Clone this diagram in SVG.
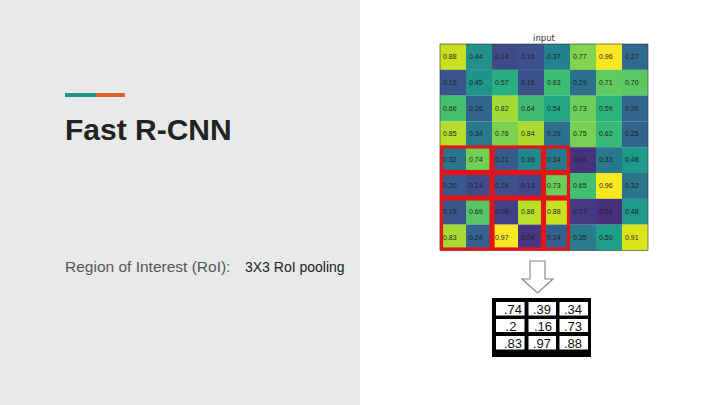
<svg xmlns="http://www.w3.org/2000/svg" width="720" height="405" viewBox="0 0 720 405">
<style>
.c{stroke:none}
.v{font-family:"Liberation Sans","DejaVu Sans",sans-serif;font-size:7px;fill:#1e1e1e}
.roi{fill:none;stroke:#e0161b;stroke-width:3.2}
.o{font-family:"Liberation Sans","DejaVu Sans",sans-serif;font-size:13px;fill:#111;text-anchor:middle}
</style>
<rect x="0" y="0" width="720" height="405" fill="#ffffff"/>
<rect x="0" y="0" width="360" height="405" fill="#e8eaea"/>
<g id="accent">
<rect x="65" y="93" width="31" height="4" fill="#23968c"/>
<rect x="96" y="93" width="29" height="4" fill="#e0622a"/>
</g>
<g id="title"><text x="65" y="140" font-family="Liberation Sans, Arial, sans-serif" font-weight="bold" font-size="30" fill="#222">Fast R-CNN</text></g>
<g id="roi-label"><text x="65" y="272" font-family="Liberation Sans, Arial, sans-serif" font-size="15.5" fill="#555">Region of Interest (RoI):</text></g>
<g id="pool-label"><text x="245" y="272" font-family="Liberation Sans, Arial, sans-serif" font-size="14" fill="#222">3X3 RoI pooling</text></g>

<g id="input-grid">
<text x="544" y="41" text-anchor="middle" font-family="DejaVu Sans, sans-serif" font-size="8.5" fill="#333">input</text>
<!-- row 0 -->
<rect class="c" x="440" y="44" width="26" height="25.9" fill="#c8e020"/>
<rect class="c" x="466" y="44" width="26" height="25.9" fill="#21918c"/>
<rect class="c" x="492" y="44" width="26" height="25.9" fill="#3f4a89"/>
<rect class="c" x="518" y="44" width="26" height="25.9" fill="#3c508b"/>
<rect class="c" x="544" y="44" width="26" height="25.9" fill="#26818e"/>
<rect class="c" x="570" y="44" width="26" height="25.9" fill="#82d34d"/>
<rect class="c" x="596" y="44" width="26" height="25.9" fill="#f9e722"/>
<rect class="c" x="622" y="44" width="26" height="25.9" fill="#306a8e"/>
<!-- row 1 -->
<rect class="c" x="440" y="69.8" width="26" height="25.9" fill="#39568c"/>
<rect class="c" x="466" y="69.8" width="26" height="25.9" fill="#20948b"/>
<rect class="c" x="492" y="69.8" width="26" height="25.9" fill="#28ae80"/>
<rect class="c" x="518" y="69.8" width="26" height="25.9" fill="#3c508b"/>
<rect class="c" x="544" y="69.8" width="26" height="25.9" fill="#3dbc74"/>
<rect class="c" x="570" y="69.8" width="26" height="25.9" fill="#2d708e"/>
<rect class="c" x="596" y="69.8" width="26" height="25.9" fill="#60ca60"/>
<rect class="c" x="622" y="69.8" width="26" height="25.9" fill="#5cc863"/>
<!-- row 2 -->
<rect class="c" x="440" y="95.6" width="26" height="25.9" fill="#47c16e"/>
<rect class="c" x="466" y="95.6" width="26" height="25.9" fill="#31678e"/>
<rect class="c" x="492" y="95.6" width="26" height="25.9" fill="#a2da37"/>
<rect class="c" x="518" y="95.6" width="26" height="25.9" fill="#40bd72"/>
<rect class="c" x="544" y="95.6" width="26" height="25.9" fill="#22a785"/>
<rect class="c" x="570" y="95.6" width="26" height="25.9" fill="#6ccd5a"/>
<rect class="c" x="596" y="95.6" width="26" height="25.9" fill="#2db27d"/>
<rect class="c" x="622" y="95.6" width="26" height="25.9" fill="#31678e"/>
<!-- row 3 -->
<rect class="c" x="440" y="121.4" width="26" height="25.9" fill="#b5de2b"/>
<rect class="c" x="466" y="121.4" width="26" height="25.9" fill="#29798e"/>
<rect class="c" x="492" y="121.4" width="26" height="25.9" fill="#7bd250"/>
<rect class="c" x="518" y="121.4" width="26" height="25.9" fill="#addc30"/>
<rect class="c" x="544" y="121.4" width="26" height="25.9" fill="#2d708e"/>
<rect class="c" x="570" y="121.4" width="26" height="25.9" fill="#77d153"/>
<rect class="c" x="596" y="121.4" width="26" height="25.9" fill="#39b977"/>
<rect class="c" x="622" y="121.4" width="26" height="25.9" fill="#32648e"/>
<!-- row 4 -->
<rect class="c" x="440" y="147.2" width="26" height="25.9" fill="#2b758e"/>
<rect class="c" x="466" y="147.2" width="26" height="25.9" fill="#72cf56"/>
<rect class="c" x="492" y="147.2" width="26" height="25.9" fill="#375b8d"/>
<rect class="c" x="518" y="147.2" width="26" height="25.9" fill="#24868e"/>
<rect class="c" x="544" y="147.2" width="26" height="25.9" fill="#29798e"/>
<rect class="c" x="570" y="147.2" width="26" height="25.9" fill="#46337f"/>
<rect class="c" x="596" y="147.2" width="26" height="25.9" fill="#2a788e"/>
<rect class="c" x="622" y="147.2" width="26" height="25.9" fill="#1e9a8a"/>
<!-- row 5 -->
<rect class="c" x="440" y="173" width="26" height="25.9" fill="#38598c"/>
<rect class="c" x="466" y="173" width="26" height="25.9" fill="#3f4a89"/>
<rect class="c" x="492" y="173" width="26" height="25.9" fill="#3c508b"/>
<rect class="c" x="518" y="173" width="26" height="25.9" fill="#40478a"/>
<rect class="c" x="544" y="173" width="26" height="25.9" fill="#6ccd5a"/>
<rect class="c" x="570" y="173" width="26" height="25.9" fill="#44bf70"/>
<rect class="c" x="596" y="173" width="26" height="25.9" fill="#f9e722"/>
<rect class="c" x="622" y="173" width="26" height="25.9" fill="#2b758e"/>
<!-- row 6 -->
<rect class="c" x="440" y="198.8" width="26" height="25.9" fill="#39568c"/>
<rect class="c" x="466" y="198.8" width="26" height="25.9" fill="#57c666"/>
<rect class="c" x="492" y="198.8" width="26" height="25.9" fill="#424086"/>
<rect class="c" x="518" y="198.8" width="26" height="25.9" fill="#badf28"/>
<rect class="c" x="544" y="198.8" width="26" height="25.9" fill="#c8e020"/>
<rect class="c" x="570" y="198.8" width="26" height="25.9" fill="#443a83"/>
<rect class="c" x="596" y="198.8" width="26" height="25.9" fill="#47307d"/>
<rect class="c" x="622" y="198.8" width="26" height="25.9" fill="#1e9a8a"/>
<!-- row 7 -->
<rect class="c" x="440" y="224.6" width="26" height="25.8" fill="#a8db34"/>
<rect class="c" x="466" y="224.6" width="26" height="25.8" fill="#34618d"/>
<rect class="c" x="492" y="224.6" width="26" height="25.8" fill="#fde725"/>
<rect class="c" x="518" y="224.6" width="26" height="25.8" fill="#463581"/>
<rect class="c" x="544" y="224.6" width="26" height="25.8" fill="#34618d"/>
<rect class="c" x="570" y="224.6" width="26" height="25.8" fill="#287c8e"/>
<rect class="c" x="596" y="224.6" width="26" height="25.8" fill="#1f9f88"/>
<rect class="c" x="622" y="224.6" width="26" height="25.8" fill="#dbe31a"/>
<rect x="440" y="44" width="208" height="206.4" fill="none" stroke="#333" stroke-width="0.6"/>
<!-- values -->
<text class="v" x="443" y="59">0.88</text><text class="v" x="469" y="59">0.44</text><text class="v" x="495" y="59">0.14</text><text class="v" x="521" y="59">0.16</text><text class="v" x="547" y="59">0.37</text><text class="v" x="573" y="59">0.77</text><text class="v" x="599" y="59">0.96</text><text class="v" x="625" y="59">0.27</text>
<text class="v" x="443" y="84.8">0.19</text><text class="v" x="469" y="84.8">0.45</text><text class="v" x="495" y="84.8">0.57</text><text class="v" x="521" y="84.8">0.16</text><text class="v" x="547" y="84.8">0.63</text><text class="v" x="573" y="84.8">0.29</text><text class="v" x="599" y="84.8">0.71</text><text class="v" x="625" y="84.8">0.70</text>
<text class="v" x="443" y="110.6">0.66</text><text class="v" x="469" y="110.6">0.26</text><text class="v" x="495" y="110.6">0.82</text><text class="v" x="521" y="110.6">0.64</text><text class="v" x="547" y="110.6">0.54</text><text class="v" x="573" y="110.6">0.73</text><text class="v" x="599" y="110.6">0.59</text><text class="v" x="625" y="110.6">0.26</text>
<text class="v" x="443" y="136.4">0.85</text><text class="v" x="469" y="136.4">0.34</text><text class="v" x="495" y="136.4">0.76</text><text class="v" x="521" y="136.4">0.84</text><text class="v" x="547" y="136.4">0.29</text><text class="v" x="573" y="136.4">0.75</text><text class="v" x="599" y="136.4">0.62</text><text class="v" x="625" y="136.4">0.25</text>
<text class="v" x="443" y="162.2">0.32</text><text class="v" x="469" y="162.2">0.74</text><text class="v" x="495" y="162.2">0.21</text><text class="v" x="521" y="162.2">0.39</text><text class="v" x="547" y="162.2">0.34</text><text class="v" x="573" y="162.2">0.03</text><text class="v" x="599" y="162.2">0.33</text><text class="v" x="625" y="162.2">0.48</text>
<text class="v" x="443" y="188">0.20</text><text class="v" x="469" y="188">0.14</text><text class="v" x="495" y="188">0.16</text><text class="v" x="521" y="188">0.13</text><text class="v" x="547" y="188">0.73</text><text class="v" x="573" y="188">0.65</text><text class="v" x="599" y="188">0.96</text><text class="v" x="625" y="188">0.32</text>
<text class="v" x="443" y="213.8">0.19</text><text class="v" x="469" y="213.8">0.69</text><text class="v" x="495" y="213.8">0.09</text><text class="v" x="521" y="213.8">0.86</text><text class="v" x="547" y="213.8">0.88</text><text class="v" x="573" y="213.8">0.07</text><text class="v" x="599" y="213.8">0.01</text><text class="v" x="625" y="213.8">0.48</text>
<text class="v" x="443" y="239.6">0.83</text><text class="v" x="469" y="239.6">0.24</text><text class="v" x="495" y="239.6">0.97</text><text class="v" x="521" y="239.6">0.04</text><text class="v" x="547" y="239.6">0.24</text><text class="v" x="573" y="239.6">0.35</text><text class="v" x="599" y="239.6">0.50</text><text class="v" x="625" y="239.6">0.91</text>
</g>

<g id="roi-boxes">
<rect class="roi" x="441.5" y="147" width="49.5" height="24.5"/>
<rect class="roi" x="493" y="147" width="49.5" height="24.5"/>
<rect class="roi" x="544.5" y="147" width="24" height="24.5"/>
<rect class="roi" x="441.5" y="173.5" width="49.5" height="23.5"/>
<rect class="roi" x="493" y="173.5" width="49.5" height="23.5"/>
<rect class="roi" x="544.5" y="173.5" width="24" height="23.5"/>
<rect class="roi" x="441.5" y="199" width="49.5" height="50"/>
<rect class="roi" x="493" y="199" width="49.5" height="50"/>
<rect class="roi" x="544.5" y="199" width="24" height="50"/>
</g>

<g id="connectors">
<path d="M530,261 H545 V279 H553 L537.5,293 L522,279 H530 Z" fill="#ffffff" stroke="#8a8a8a" stroke-width="1.2"/>
</g>

<g id="output-table">
<rect x="492" y="298" width="99" height="59" fill="#000"/>
<rect x="496" y="302" width="28.5" height="13.5" fill="#fff"/>
<rect x="528.5" y="302" width="27.5" height="13.5" fill="#fff"/>
<rect x="559.5" y="302" width="28.5" height="13.5" fill="#fff"/>
<rect x="496" y="319" width="28.5" height="13" fill="#fff"/>
<rect x="528.5" y="319" width="27.5" height="13" fill="#fff"/>
<rect x="559.5" y="319" width="28.5" height="13" fill="#fff"/>
<rect x="496" y="336" width="28.5" height="13.5" fill="#fff"/>
<rect x="528.5" y="336" width="27.5" height="13.5" fill="#fff"/>
<rect x="559.5" y="336" width="28.5" height="13.5" fill="#fff"/>
<text class="o" x="513" y="314">.74</text><text class="o" x="542" y="314">.39</text><text class="o" x="573" y="314">.34</text>
<text class="o" x="511" y="330.5">.2</text><text class="o" x="543" y="330.5">.16</text><text class="o" x="573" y="330.5">.73</text>
<text class="o" x="513" y="347.5">.83</text><text class="o" x="542" y="347.5">.97</text><text class="o" x="573" y="347.5">.88</text>
</g>
</svg>
